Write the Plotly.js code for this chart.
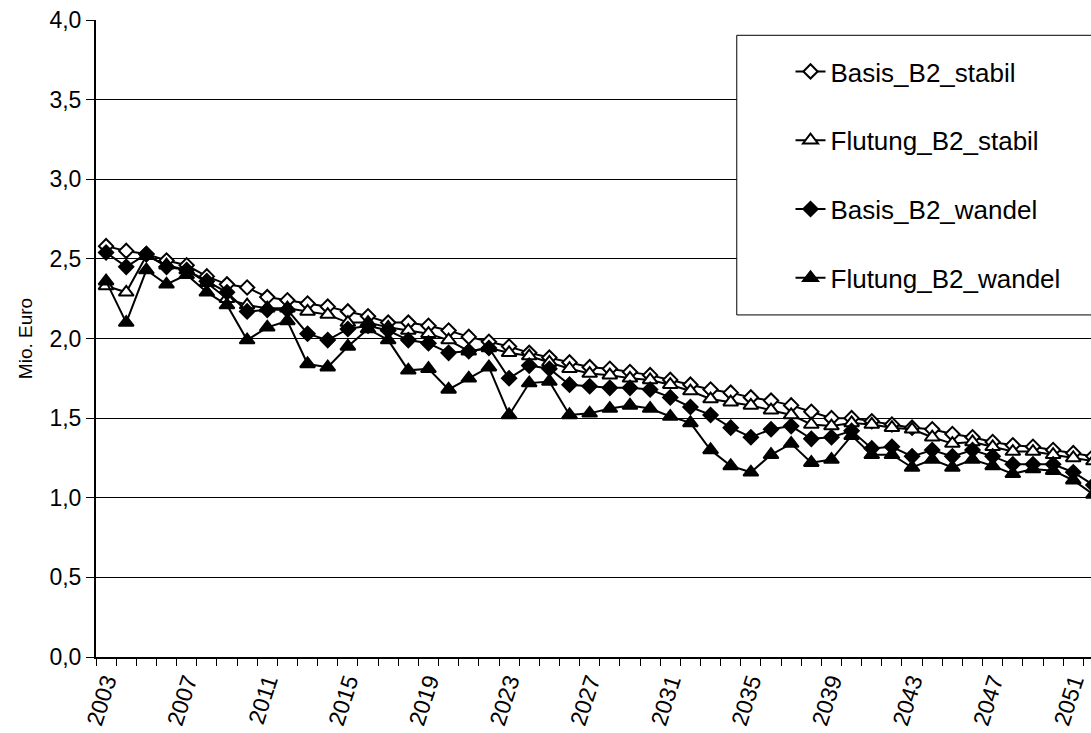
<!DOCTYPE html>
<html><head><meta charset="utf-8">
<script src="https://cdn.plot.ly/plotly-3.0.1.min.js"></script>
<style>html,body{margin:0;padding:0;background:#fff}#chart{width:1091px;height:733px}</style>
</head><body><div id="chart"></div>
<script>
const years = [2003,2004,2005,2006,2007,2008,2009,2010,2011,2012,
  2013,2014,2015,2016,2017,2018,2019,2020,2021,2022,
  2023,2024,2025,2026,2027,2028,2029,2030,2031,2032,
  2033,2034,2035,2036,2037,2038,2039,2040,2041,2042,
  2043,2044,2045,2046,2047,2048,2049,2050,2051,2052];
const tickYears = [2003,2007,2011,2015,2019,2023,2027,2031,2035,2039,2043,2047,2051];

const basisStabil = [2.58,2.55,2.53,2.49,2.46,2.39,2.34,2.32,2.26,2.24,
  2.22,2.20,2.17,2.14,2.10,2.10,2.08,2.05,2.01,1.98,
  1.95,1.91,1.88,1.85,1.82,1.81,1.79,1.77,1.74,1.71,
  1.68,1.66,1.63,1.61,1.58,1.54,1.50,1.50,1.48,1.46,
  1.44,1.43,1.40,1.38,1.35,1.33,1.32,1.30,1.28,1.26];
const flutungStabil = [2.33,2.29,2.52,2.46,2.43,2.35,2.25,2.21,2.19,2.19,
  2.17,2.15,2.10,2.10,2.07,2.05,2.03,1.99,1.92,1.94,
  1.91,1.89,1.85,1.81,1.78,1.77,1.75,1.74,1.71,1.67,
  1.62,1.60,1.58,1.55,1.52,1.46,1.45,1.47,1.46,1.44,
  1.43,1.38,1.34,1.35,1.32,1.29,1.29,1.27,1.25,1.23];
const basisWandel = [2.54,2.45,2.53,2.45,2.43,2.36,2.29,2.17,2.18,2.18,
  2.03,1.99,2.06,2.08,2.05,1.99,1.97,1.91,1.92,1.94,
  1.75,1.83,1.81,1.71,1.70,1.69,1.69,1.68,1.63,1.57,
  1.52,1.44,1.38,1.43,1.45,1.37,1.38,1.42,1.31,1.32,
  1.26,1.30,1.26,1.30,1.26,1.21,1.21,1.21,1.16,1.08];
const flutungWandel = [2.36,2.10,2.43,2.34,2.40,2.29,2.21,1.99,2.07,2.11,
  1.84,1.82,1.95,2.06,1.99,1.80,1.81,1.68,1.75,1.82,
  1.52,1.72,1.73,1.52,1.53,1.56,1.58,1.56,1.51,1.47,
  1.30,1.20,1.16,1.27,1.34,1.22,1.24,1.39,1.27,1.27,
  1.19,1.24,1.19,1.24,1.20,1.15,1.18,1.17,1.11,1.02];

const names = ['Basis_B2_stabil','Flutung_B2_stabil','Basis_B2_wandel','Flutung_B2_wandel'];

function tr(y, name, symbol, fill, size, grp){
  return {x: years, y: y, name: name, type:'scatter', mode:'lines+markers',
    legendgroup: grp,
    line:{color:'#000', width:2},
    marker:{symbol: symbol, size: size, color: fill, line:{color:'#000', width:2}}};
}
const data = [
  tr(basisStabil, names[0], 'diamond', '#fff', 11, 'a'),
  tr(flutungStabil, names[1], 'triangle-up', '#fff', 13, 'b'),
  tr(basisWandel, names[2], 'diamond', '#000', 11, 'c'),
  tr(flutungWandel, names[3], 'triangle-up', '#000', 13, 'd')
];

const font = 'Liberation Sans, Arial, sans-serif';
const layout = {
  width:1091, height:733,
  margin:{l:96, r:0, t:20, b:76},
  paper_bgcolor:'#fff', plot_bgcolor:'#fff',
  separators:',.',
  font:{family: font, color:'#000'},
  showlegend:true,
  xaxis:{range:[2002.5, 2051.88], tickmode:'array', tickvals: tickYears,
    ticktext: tickYears.map(String),
    ticks:'', tickangle:-72, tickfont:{size:23, family: font},
    showline:true, linecolor:'#000', linewidth:2, showgrid:false, zeroline:false,
    minor:{tickmode:'linear', tick0:2002.5, dtick:1, ticks:'outside', ticklen:7, tickcolor:'#000', tickwidth:1, showgrid:false}},
  yaxis:{range:[0,4], tickmode:'linear', tick0:0, dtick:0.5, tickformat:'.1f',
    ticks:'outside', ticklen:8, tickcolor:'#000', tickfont:{size:23, family: font},
    showline:true, linecolor:'#000', linewidth:2, showgrid:true, gridcolor:'#000', gridwidth:1,
    zeroline:false,
    title:{text:'Mio. Euro', font:{size:19, family: font}, standoff:12}},
  legend:{x:0.698, y:0.956, xanchor:'left', yanchor:'top', bgcolor:'rgba(0,0,0,0)', borderwidth:0,
    font:{size:26, family: font}, traceorder:'grouped', tracegroupgap:32},
  shapes:[{type:'rect', xref:'paper', yref:'paper', x0:0.644, x1:1.05, y0:0.537, y1:0.976,
    line:{color:'#000', width:1}, fillcolor:'#fff', layer:'above'}]
};
Plotly.newPlot('chart', data, layout, {staticPlot:true});
</script>
</body></html>
